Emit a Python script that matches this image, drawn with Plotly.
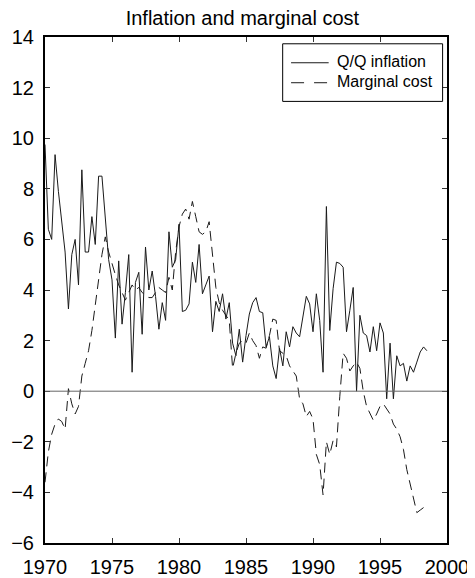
import plotly.graph_objects as go

start_year = 1970.0
quarter_step = 0.25

inflation = [
    9.75, 6.4, 6.0, 9.35, 7.9, 6.8, 5.5, 3.25, 5.4, 6.0,
    4.2, 8.75, 5.5, 5.5, 6.9, 5.8, 8.5, 8.5, 6.7, 5.2,
    4.4, 2.1, 5.15, 2.65, 3.9, 5.4, 0.75, 4.3, 4.7, 2.25,
    5.7, 4.0, 4.75, 3.75, 2.45, 3.5, 2.8, 6.3, 4.9, 5.2,
    6.6, 3.15, 3.2, 3.45, 5.1, 4.3, 5.8, 3.85, 4.2, 4.55,
    2.35, 3.55, 3.15, 3.85, 2.85, 3.5, 1.9, 1.4, 2.45, 1.15,
    2.2, 3.05, 3.5, 3.7, 3.15, 3.1, 1.75, 2.15, 1.0, 0.5,
    1.7, 1.0, 2.35, 1.75, 2.55, 2.3, 2.15, 3.05, 3.75, 3.45,
    2.35, 3.85, 2.8, 0.75, 7.3, 2.4, 4.05, 5.1, 5.05, 4.9,
    2.35, 3.2, 4.1, 0.0, 3.0, 2.3, 2.2, 1.55, 2.55, 1.6,
    2.7, 2.3, -0.3, 1.9, -0.3, 1.4, 1.0, 1.1, 0.4, 1.0,
    0.75, 1.15, 1.55, 1.75, 1.6,
]

marginal_cost = [
    -3.6, -2.4, -1.7, -1.3, -1.1, -1.2, -1.5, 0.1, -0.5, -0.9,
    -0.6, 0.6, 1.1, 1.6, 2.4, 3.3, 4.4, 5.4, 6.1, 5.5,
    5.0, 4.6, 4.2, 3.9, 3.6, 3.9, 4.2, 4.0, 4.1, 3.9,
    3.8, 3.7, 3.7, 3.9, 4.1, 4.0, 3.9, 4.5, 4.0, 5.5,
    6.5, 7.0, 7.2, 6.8, 7.5, 6.9, 6.3, 6.2, 6.3, 6.7,
    5.3, 4.1, 3.5, 3.2, 3.0, 2.8, 0.9, 1.5, 1.9, 2.0,
    1.9, 2.3, 2.0, 1.8, 1.3, 1.75, 1.7, 2.2, 2.85, 2.8,
    1.6, 1.5, 1.4, 1.0, 0.8, 0.6, -0.3, -0.5, -1.0, -0.8,
    -1.1, -2.5, -2.9, -4.1, -2.0, -2.5, -1.95, -2.2, -0.2, 1.5,
    1.3, 0.8, 1.0, 1.15, 0.9, 0.0, -0.6, -0.9, -1.15, -0.9,
    -0.6, -0.5, -0.7, -0.9, -1.3, -1.5, -1.8, -2.3, -3.1, -3.7,
    -4.2, -4.8, -4.7, -4.6,
]

series_names = ["Q/Q inflation", "Marginal cost"]
title_text = "Inflation and marginal cost"
x_ticks = [1970, 1975, 1980, 1985, 1990, 1995, 2000]
y_ticks = [-6, -4, -2, 0, 2, 4, 6, 8, 10, 12, 14]

t_infl = [start_year + i * quarter_step for i in range(len(inflation))]
t_mc = [start_year + i * quarter_step for i in range(len(marginal_cost))]

# figure geometry (page has an 8px body margin)
W, H = 467, 570
L, R, T, B = 36.5, 28.3, 28.5, 34.7
PW, PH = W - L - R, H - T - B


def px(fx):
    return (fx - L) / PW


def py(fy):
    return (H - B - fy) / PH


LINE_COLOR = "#1a1a1a"
solid_style = dict(color=LINE_COLOR, width=1)
dash_style = dict(color=LINE_COLOR, width=1, dash="10px,6px")

fig = go.Figure()
fig.add_trace(go.Scatter(x=t_infl, y=inflation, mode="lines",
                         name=series_names[0], line=solid_style,
                         showlegend=False))
fig.add_trace(go.Scatter(x=t_mc, y=marginal_cost, mode="lines",
                         name=series_names[1], line=dash_style,
                         showlegend=False))
fig.add_hline(y=0, line=dict(color="#666666", width=1))

# manual legend box (matches the reference's MATLAB-style legend)
fig.add_shape(type="rect", xref="paper", yref="paper",
              x0=px(274.3), x1=px(434.3), y0=py(93), y1=py(35.3),
              line=dict(color="black", width=1), fillcolor="white",
              layer="above")
fig.add_shape(type="line", xref="paper", yref="paper",
              x0=px(282.7), x1=px(320.3), y0=py(54.3), y1=py(54.3),
              line=dict(color=LINE_COLOR, width=1), layer="above")
fig.add_shape(type="line", xref="paper", yref="paper",
              x0=px(282.7), x1=px(320.3), y0=py(74.3), y1=py(74.3),
              line=dict(color=LINE_COLOR, width=1, dash="13px,10px"),
              layer="above")
for name, fy in zip(series_names, [53.5, 73.5]):
    fig.add_annotation(xref="paper", yref="paper", x=px(327), y=py(fy),
                       xanchor="left", yanchor="middle", text=name,
                       showarrow=False, font=dict(size=16, color="black"))

axis_common = dict(
    showgrid=False, zeroline=False, showline=True, linecolor="black",
    linewidth=2, mirror="ticks", ticks="inside", ticklen=5,
    tickcolor="#333333", tickwidth=1, automargin=False,
    tickfont=dict(size=20, color="black"),
)

fig.update_layout(
    width=W, height=H,
    margin=dict(l=L, r=R, t=T, b=B, pad=0, autoexpand=False),
    paper_bgcolor="white", plot_bgcolor="white",
    font=dict(family="Liberation Sans, Arial, sans-serif", color="black"),
    title=dict(text=title_text, x=234.4 / W, xanchor="center",
               xref="container", yref="container",
               y=1 - 3 / H, yanchor="top", font=dict(size=20),
               automargin=False),
    xaxis=dict(range=[1970, 2000], tickvals=x_ticks, ticklabelstandoff=5,
               **axis_common),
    yaxis=dict(range=[-6, 14], tickvals=y_ticks, ticklabelstandoff=5,
               **axis_common),
    showlegend=False,
)

fig.write_html("out.html")
